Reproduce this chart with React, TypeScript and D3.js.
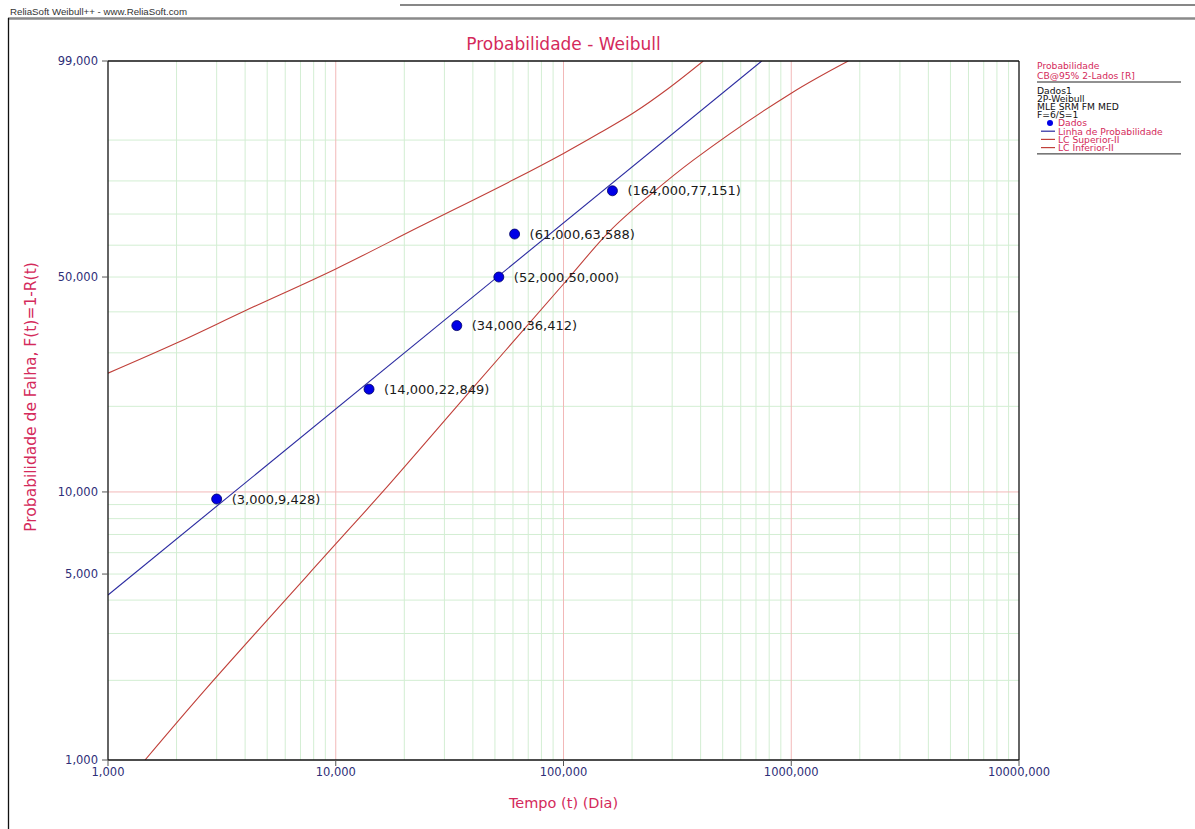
import React from 'react';
import * as d3 from 'd3';

// ---- data ----
const pointTimes = [3000, 14000, 34000, 52000, 61000, 164000];
const pointProbs = [9.428, 22.849, 36.412, 50.0, 63.588, 77.151];
const pointLabels = [
  '(3,000,9,428)',
  '(14,000,22,849)',
  '(34,000,36,412)',
  '(52,000,50,000)',
  '(61,000,63,588)',
  '(164,000,77,151)',
];
const fitTimes = [1000, 742000];
const fitProbs = [4.18, 99];
const upperTimes = [1000, 2000, 4000, 10000, 23400, 60200, 100000, 144600, 202500, 287600, 411000];
const upperProbs = [25.8, 32.2, 40.3, 52.5, 66.0, 80.3, 87.1, 91.4, 94.6, 97.3, 99];
const lowerTimes = [1454, 2710, 10000, 16200, 38900, 100000, 160000, 239800, 371500, 1000000, 1780000];
const lowerProbs = [1, 1.87, 6.46, 10.08, 22.5, 47.9, 64.6, 75.9, 85.5, 96.9, 99];

const xTickValues = [1e3, 1e4, 1e5, 1e6, 1e7];
const xTickLabels = ['1,000', '10,000', '100,000', '1000,000', '10000,000'];
const yTickValues = [1, 5, 10, 50, 99];
const yTickLabels = ['1,000', '5,000', '10,000', '50,000', '99,000'];
const yMinorGrid = [2, 3, 4, 5, 6, 7, 8, 9, 20, 30, 40, 50, 60, 70, 80, 90];
const yMajorGrid = [10];
const xDecades = [1e3, 1e4, 1e5, 1e6];
const xMinorMultipliers = [2, 3, 4, 5, 6, 7, 8, 9];
const xMajorGrid = [1e4, 1e5, 1e6];

const titleText = 'Probabilidade - Weibull';
const xTitle = 'Tempo (t) (Dia)';
const yTitle = 'Probabilidade de Falha, F(t)=1-R(t)';
const headerText = 'ReliaSoft Weibull++ - www.ReliaSoft.com';
const legendHeader = ['Probabilidade', 'CB@95% 2-Lados [R]'];
const legendInfo = ['Dados1', '2P-Weibull', 'MLE SRM FM MED', 'F=6/S=1'];
const legendItems = ['Dados', 'Linha de Probabilidade', 'LC Superior-II', 'LC Inferior-II'];

// ---- layout ----
const W = 1195;
const H = 829;
const L = 108;
const R = 1019;
const T = 61;
const B = 760;

const PINK = '#d42a5b';
const NAVY = '#2e2e78';
const BLUE = '#0000e6';
const FITC = '#2a2aa0';
const REDC = '#c0403a';
const GREEN = '#d3eed3';
const GRIDRED = '#f2b8b8';
const FONT = "'DejaVu Sans', Verdana, sans-serif";

const wt = (p: number) => Math.log(-Math.log(1 - p / 100));

export default function App() {
  const x = d3.scaleLog().domain([1e3, 1e7]).range([L, R]);
  const yz = d3.scaleLinear().domain([wt(1), wt(99)]).range([B, T]);
  const y = (p: number) => yz(wt(p));

  const curve = d3
    .line<[number, number]>()
    .x((d) => x(d[0]))
    .y((d) => y(d[1]))
    .curve(d3.curveCatmullRom.alpha(0.5));
  const straight = d3
    .line<[number, number]>()
    .x((d) => x(d[0]))
    .y((d) => y(d[1]));

  const fitPts = fitTimes.map((t, i) => [t, fitProbs[i]] as [number, number]);
  const upPts = upperTimes.map((t, i) => [t, upperProbs[i]] as [number, number]);
  const loPts = lowerTimes.map((t, i) => [t, lowerProbs[i]] as [number, number]);

  const xMinor: number[] = [];
  xDecades.forEach((d) => xMinorMultipliers.forEach((m) => xMinor.push(d * m)));

  const legX = 1037;
  const itemX = 1058;
  const step = 8.2;
  const infoTop = 93.5;

  return (
    <div style={{ position: 'absolute', left: 0, top: 0, width: W, height: H, overflow: 'hidden', background: '#fff' }}>
      <svg width={W} height={H} style={{ display: 'block' }} fontFamily={FONT}>
        <defs>
          <clipPath id="plotclip">
            <rect x={L} y={T} width={R - L} height={B - T} />
          </clipPath>
        </defs>
        <rect x={0} y={0} width={W} height={H} fill="#fff" />

        {/* frame of the screenshot */}
        <line x1={400} x2={W} y1={5} y2={5} stroke="#111" strokeWidth={1.2} />
        <text x={10} y={15} fontSize={9.7} fill="#333" fontFamily="'Liberation Sans', Arial, sans-serif">
          {headerText}
        </text>
        <line x1={8} x2={W} y1={18.5} y2={18.5} stroke="#8a8a8a" strokeWidth={2.5} />
        <line x1={8.5} x2={8.5} y1={18} y2={H} stroke="#111" strokeWidth={1.3} />

        {/* grid */}
        <g>
          {xMinor.map((v) => (
            <line key={'xm' + v} x1={x(v)} x2={x(v)} y1={T} y2={B} stroke={GREEN} strokeWidth={1} />
          ))}
          {yMinorGrid.map((p) => (
            <line key={'ym' + p} x1={L} x2={R} y1={y(p)} y2={y(p)} stroke={GREEN} strokeWidth={1} />
          ))}
          {xMajorGrid.map((v) => (
            <line key={'xM' + v} x1={x(v)} x2={x(v)} y1={T} y2={B} stroke={GRIDRED} strokeWidth={1} />
          ))}
          {yMajorGrid.map((p) => (
            <line key={'yM' + p} x1={L} x2={R} y1={y(p)} y2={y(p)} stroke={GRIDRED} strokeWidth={1} />
          ))}
        </g>

        {/* curves */}
        <g clipPath="url(#plotclip)">
          <path d={curve(upPts) || ''} fill="none" stroke={REDC} strokeWidth={1.1} />
          <path d={curve(loPts) || ''} fill="none" stroke={REDC} strokeWidth={1.1} />
          <path d={straight(fitPts) || ''} fill="none" stroke={FITC} strokeWidth={1.1} />
        </g>

        {/* plot box */}
        <line x1={L} x2={R} y1={T} y2={T} stroke="#111" strokeWidth={1.3} />
        <line x1={L} x2={L} y1={T} y2={B} stroke="#111" strokeWidth={1.3} />
        <line x1={L} x2={R} y1={B} y2={B} stroke="#111" strokeWidth={1.3} />
        <line x1={R} x2={R} y1={T} y2={B} stroke="#111" strokeWidth={1.3} />

        {/* y ticks */}
        {yTickValues.map((p, i) => (
          <g key={'yt' + p}>
            <line x1={L - 6} x2={L} y1={y(p)} y2={y(p)} stroke="#555" strokeWidth={1} />
            <text x={L - 10} y={y(p)} dy="0.35em" textAnchor="end" fontSize={11.5} fill={NAVY}>
              {yTickLabels[i]}
            </text>
          </g>
        ))}
        {/* x ticks */}
        {xTickValues.map((v, i) => (
          <g key={'xt' + v}>
            <line x1={x(v)} x2={x(v)} y1={B} y2={B + 6} stroke="#555" strokeWidth={1} />
            <text x={x(v)} y={B + 16} textAnchor="middle" fontSize={11.5} fill={NAVY}>
              {xTickLabels[i]}
            </text>
          </g>
        ))}

        {/* points */}
        {pointTimes.map((t, i) => (
          <g key={'p' + t}>
            <circle cx={x(t)} cy={y(pointProbs[i])} r={5} fill={BLUE} stroke="#000066" strokeWidth={0.8} />
            <text x={x(t) + 15} y={y(pointProbs[i])} dy="0.36em" fontSize={13} fill="#1a1a1a">
              {pointLabels[i]}
            </text>
          </g>
        ))}

        {/* titles */}
        <text x={(L + R) / 2} y={50} textAnchor="middle" fontSize={17} fill={PINK}>
          {titleText}
        </text>
        <text x={(L + R) / 2} y={808} textAnchor="middle" fontSize={14.5} fill={PINK}>
          {xTitle}
        </text>
        <text
          transform={`translate(36,397) rotate(-90)`}
          textAnchor="middle"
          fontSize={15.5}
          fill={PINK}
        >
          {yTitle}
        </text>

        {/* legend */}
        <g fontSize={9.2}>
          <text x={legX} y={69} fill={PINK}>{legendHeader[0]}</text>
          <text x={legX} y={78.5} fill={PINK}>{legendHeader[1]}</text>
          <line x1={legX} x2={1181} y1={82} y2={82} stroke="#222" strokeWidth={1} />
          {legendInfo.map((s, i) => (
            <text key={s} x={legX} y={infoTop + i * step} fill="#111">{s}</text>
          ))}
          {legendItems.map((s, i) => {
            const yy = infoTop + (i + 4) * step;
            return (
              <g key={s}>
                {i === 0 ? (
                  <circle cx={1050} cy={yy - 3.3} r={3} fill={BLUE} />
                ) : (
                  <line x1={1041} x2={1055} y1={yy - 3.3} y2={yy - 3.3} stroke={i === 1 ? FITC : REDC} strokeWidth={1.2} />
                )}
                <text x={itemX} y={yy} fill={PINK}>{s}</text>
              </g>
            );
          })}
          <line x1={legX} x2={1181} y1={infoTop + 7 * step + 3} y2={infoTop + 7 * step + 3} stroke="#222" strokeWidth={1} />
        </g>
      </svg>
    </div>
  );
}
